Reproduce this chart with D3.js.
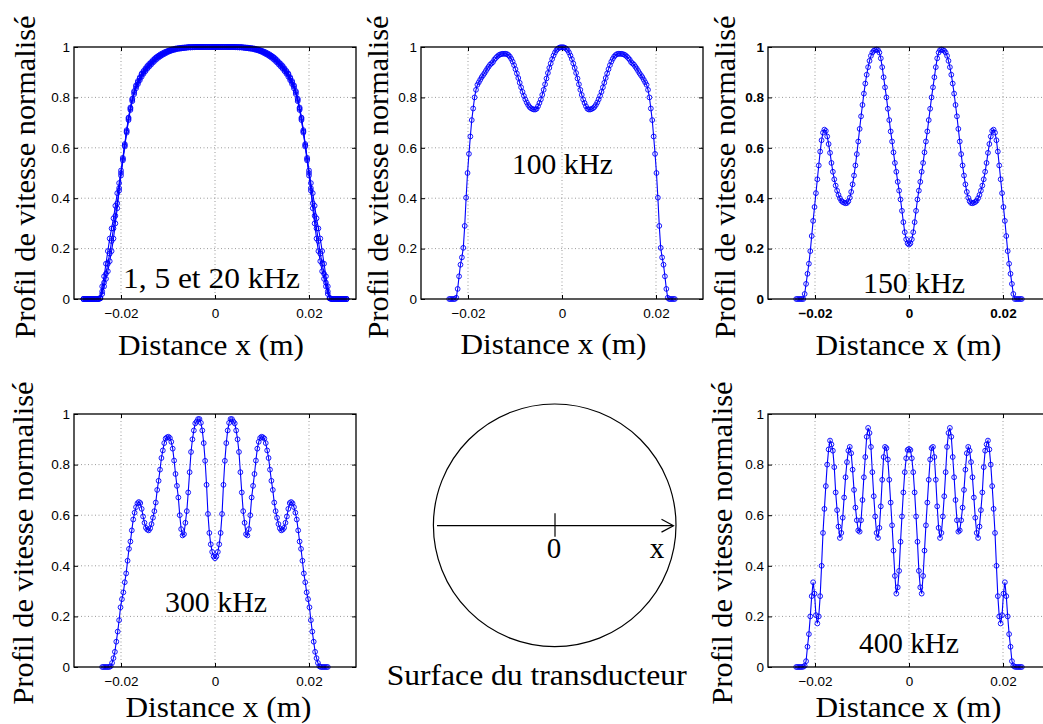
<!DOCTYPE html>
<html><head><meta charset="utf-8">
<script src="https://cdn.jsdelivr.net/npm/d3@7"></script>
<style>body{margin:0;background:#fff}svg{display:block}</style>
</head><body>
<svg id="c" width="1043" height="724"></svg>
<script>
// ---------- DATA ----------
const xTicks = [-0.02, 0, 0.02];
const xTickLabels = ["\u22120.02", "0", "0.02"];
const yTicks = [0, 0.2, 0.4, 0.6, 0.8, 1];
const yTickLabels = ["0", "0.2", "0.4", "0.6", "0.8", "1"];

// sample positions (m) for the 1, 5, 20 kHz profiles
const xLow = [
-0.0280,-0.0276,-0.0272,-0.0268,-0.0264,-0.0260,-0.0256,-0.0252,-0.0248,-0.0244,
-0.0240,-0.0236,-0.0232,-0.0228,-0.0224,-0.0220,-0.0216,-0.0212,-0.0208,-0.0204,
-0.0200,-0.0196,-0.0192,-0.0188,-0.0184,-0.0180,-0.0176,-0.0172,-0.0168,-0.0164,
-0.0160,-0.0156,-0.0152,-0.0148,-0.0144,-0.0140,-0.0136,-0.0132,-0.0128,-0.0124,
-0.0120,-0.0116,-0.0112,-0.0108,-0.0104,-0.0100,-0.0096,-0.0092,-0.0088,-0.0084,
-0.0080,-0.0076,-0.0072,-0.0068,-0.0064,-0.0060,-0.0056,-0.0052,-0.0048,-0.0044,
-0.0040,-0.0036,-0.0032,-0.0028,-0.0024,-0.0020,-0.0016,-0.0012,-0.0008,-0.0004,
0,
0.0004,0.0008,0.0012,0.0016,0.0020,0.0024,0.0028,0.0032,0.0036,0.0040,
0.0044,0.0048,0.0052,0.0056,0.0060,0.0064,0.0068,0.0072,0.0076,0.0080,
0.0084,0.0088,0.0092,0.0096,0.0100,0.0104,0.0108,0.0112,0.0116,0.0120,
0.0124,0.0128,0.0132,0.0136,0.0140,0.0144,0.0148,0.0152,0.0156,0.0160,
0.0164,0.0168,0.0172,0.0176,0.0180,0.0184,0.0188,0.0192,0.0196,0.0200,
0.0204,0.0208,0.0212,0.0216,0.0220,0.0224,0.0228,0.0232,0.0236,0.0240,
0.0244,0.0248,0.0252,0.0256,0.0260,0.0264,0.0268,0.0272,0.0276,0.0280];

const v1kHz = [
0,0,0,0,0,0,0,0,0,0.005,
0.05,0.09,0.14,0.19,0.24,0.28,0.32,0.37,0.42,0.46,
0.51,0.56,0.615,0.67,0.72,0.76,0.795,0.825,0.848,0.865,
0.88,0.895,0.905,0.915,0.925,0.933,0.94,0.948,0.955,0.961,
0.966,0.971,0.975,0.979,0.982,0.985,0.988,0.99,0.992,0.994,
0.995,0.996,0.997,0.998,0.998,0.999,1,1,1,1,
1,1,1,1,1,1,1,1,1,1,
1,
1,1,1,1,1,1,1,1,1,1,
1,1,1,1,0.999,0.998,0.998,0.997,0.996,0.995,
0.994,0.992,0.99,0.988,0.985,0.982,0.979,0.975,0.971,0.966,
0.961,0.955,0.948,0.94,0.933,0.925,0.915,0.905,0.895,0.88,
0.865,0.848,0.825,0.795,0.76,0.72,0.67,0.615,0.56,0.51,
0.46,0.42,0.37,0.32,0.28,0.24,0.19,0.14,0.09,0.05,
0.005,0,0,0,0,0,0,0,0,0];

const v5kHz = [
0,0,0,0,0,0,0,0,0,0.003,
0.03,0.065,0.10,0.14,0.18,0.23,0.28,0.33,0.38,0.44,
0.50,0.555,0.61,0.665,0.715,0.755,0.79,0.82,0.843,0.86,
0.875,0.89,0.90,0.91,0.92,0.928,0.936,0.944,0.951,0.958,
0.963,0.968,0.972,0.976,0.98,0.983,0.986,0.988,0.99,0.992,
0.994,0.995,0.996,0.997,0.998,0.998,0.999,0.999,0.999,1,
1,1,1,1,1,1,1,1,1,1,
1,
1,1,1,1,1,1,1,1,1,1,
1,0.999,0.999,0.999,0.998,0.998,0.997,0.996,0.995,0.994,
0.992,0.99,0.988,0.986,0.983,0.98,0.976,0.972,0.968,0.963,
0.958,0.951,0.944,0.936,0.928,0.92,0.91,0.90,0.89,0.875,
0.86,0.843,0.82,0.79,0.755,0.715,0.665,0.61,0.555,0.50,
0.44,0.38,0.33,0.28,0.23,0.18,0.14,0.10,0.065,0.03,
0.003,0,0,0,0,0,0,0,0,0];

const v20kHz = [
0,0,0,0,0,0,0,0,0,0.002,
0.02,0.05,0.08,0.11,0.15,0.19,0.24,0.30,0.36,0.43,
0.49,0.55,0.605,0.66,0.71,0.75,0.785,0.813,0.836,0.853,
0.868,0.882,0.894,0.904,0.914,0.922,0.93,0.938,0.945,0.952,
0.958,0.963,0.968,0.972,0.976,0.98,0.983,0.986,0.988,0.99,
0.992,0.993,0.994,0.995,0.996,0.997,0.998,0.998,0.999,0.999,
1,1,1,1,1,1,1,1,1,1,
1,
1,1,1,1,1,1,1,1,1,1,
0.999,0.999,0.998,0.998,0.997,0.996,0.995,0.994,0.993,0.992,
0.99,0.988,0.986,0.983,0.98,0.976,0.972,0.968,0.963,0.958,
0.952,0.945,0.938,0.93,0.922,0.914,0.904,0.894,0.882,0.868,
0.853,0.836,0.813,0.785,0.75,0.71,0.66,0.605,0.55,0.49,
0.43,0.36,0.30,0.24,0.19,0.15,0.11,0.08,0.05,0.02,
0.002,0,0,0,0,0,0,0,0,0];

// sample positions (m) for the 100-400 kHz profiles
const xHigh = [
-0.0240,-0.0237,-0.0234,-0.0231,-0.0228,-0.0225,-0.0222,-0.0219,-0.0216,-0.0213,
-0.0210,-0.0207,-0.0204,-0.0201,-0.0198,-0.0195,-0.0192,-0.0189,-0.0186,-0.0183,
-0.0180,-0.0177,-0.0174,-0.0171,-0.0168,-0.0165,-0.0162,-0.0159,-0.0156,-0.0153,
-0.0150,-0.0147,-0.0144,-0.0141,-0.0138,-0.0135,-0.0132,-0.0129,-0.0126,-0.0123,
-0.0120,-0.0117,-0.0114,-0.0111,-0.0108,-0.0105,-0.0102,-0.0099,-0.0096,-0.0093,
-0.0090,-0.0087,-0.0084,-0.0081,-0.0078,-0.0075,-0.0072,-0.0069,-0.0066,-0.0063,
-0.0060,-0.0057,-0.0054,-0.0051,-0.0048,-0.0045,-0.0042,-0.0039,-0.0036,-0.0033,
-0.0030,-0.0027,-0.0024,-0.0021,-0.0018,-0.0015,-0.0012,-0.0009,-0.0006,-0.0003,
0,
0.0003,0.0006,0.0009,0.0012,0.0015,0.0018,0.0021,0.0024,0.0027,0.0030,
0.0033,0.0036,0.0039,0.0042,0.0045,0.0048,0.0051,0.0054,0.0057,0.0060,
0.0063,0.0066,0.0069,0.0072,0.0075,0.0078,0.0081,0.0084,0.0087,0.0090,
0.0093,0.0096,0.0099,0.0102,0.0105,0.0108,0.0111,0.0114,0.0117,0.0120,
0.0123,0.0126,0.0129,0.0132,0.0135,0.0138,0.0141,0.0144,0.0147,0.0150,
0.0153,0.0156,0.0159,0.0162,0.0165,0.0168,0.0171,0.0174,0.0177,0.0180,
0.0183,0.0186,0.0189,0.0192,0.0195,0.0198,0.0201,0.0204,0.0207,0.0210,
0.0213,0.0216,0.0219,0.0222,0.0225,0.0228,0.0231,0.0234,0.0237,0.0240];

const v100kHz = [
0,0,0,0,0,0.005,0.04,0.09,0.136,0.165,
0.203,0.29,0.402,0.5,0.576,0.645,0.71,0.756,0.8,0.83,
0.85,0.86,0.87,0.88,0.888,0.896,0.905,0.914,0.922,0.93,
0.935,0.94,0.95,0.956,0.962,0.967,0.97,0.972,0.973,0.973,
0.973,0.972,0.968,0.962,0.953,0.942,0.928,0.912,0.895,0.877,
0.858,0.84,0.822,0.806,0.792,0.78,0.77,0.762,0.757,0.754,
0.752,0.752,0.755,0.765,0.778,0.792,0.81,0.83,0.852,0.875,
0.897,0.917,0.935,0.952,0.966,0.978,0.987,0.993,0.997,0.999,
0.999,
0.999,0.997,0.993,0.987,0.978,0.966,0.952,0.935,0.917,0.897,
0.875,0.852,0.83,0.81,0.792,0.778,0.765,0.755,0.752,0.752,
0.754,0.757,0.762,0.77,0.78,0.792,0.806,0.822,0.84,0.858,
0.877,0.895,0.912,0.928,0.942,0.953,0.962,0.968,0.972,0.973,
0.973,0.973,0.972,0.97,0.967,0.962,0.956,0.95,0.94,0.935,
0.93,0.922,0.914,0.905,0.896,0.888,0.88,0.87,0.86,0.85,
0.83,0.8,0.756,0.71,0.645,0.576,0.5,0.402,0.29,0.203,
0.165,0.136,0.09,0.04,0.005,0,0,0,0,0];

const v150kHz = [
0,0,0,0,0,0,0.02,0.06,0.10,0.14,
0.19,0.25,0.31,0.365,0.42,0.475,0.53,0.585,0.63,0.66,
0.672,0.667,0.645,0.615,0.58,0.54,0.505,0.475,0.45,0.43,
0.413,0.40,0.39,0.385,0.382,0.38,0.381,0.388,0.402,0.425,
0.455,0.49,0.53,0.575,0.625,0.675,0.725,0.77,0.815,0.855,
0.89,0.92,0.945,0.965,0.978,0.985,0.988,0.99,0.988,0.978,
0.955,0.92,0.88,0.84,0.80,0.755,0.71,0.665,0.625,0.582,
0.54,0.505,0.465,0.43,0.395,0.35,0.305,0.265,0.237,0.221,
0.216,
0.221,0.237,0.265,0.305,0.35,0.395,0.43,0.465,0.505,0.54,
0.582,0.625,0.665,0.71,0.755,0.80,0.84,0.88,0.92,0.955,
0.978,0.988,0.99,0.988,0.985,0.978,0.965,0.945,0.92,0.89,
0.855,0.815,0.77,0.725,0.675,0.625,0.575,0.53,0.49,0.455,
0.425,0.402,0.388,0.381,0.38,0.382,0.385,0.39,0.40,0.413,
0.43,0.45,0.475,0.505,0.54,0.58,0.615,0.645,0.667,0.672,
0.66,0.63,0.585,0.53,0.475,0.42,0.365,0.31,0.25,0.19,
0.14,0.10,0.06,0.02,0,0,0,0,0,0];

const v300kHz = [
0,0,0,0,0,0,0.003,0.016,0.035,0.06,
0.10,0.14,0.185,0.236,0.268,0.295,0.335,0.37,0.42,0.467,
0.496,0.54,0.583,0.61,0.632,0.647,0.652,0.648,0.625,0.595,
0.57,0.55,0.543,0.54,0.548,0.565,0.59,0.616,0.65,0.70,
0.736,0.78,0.826,0.856,0.885,0.903,0.908,0.91,0.905,0.89,
0.863,0.816,0.763,0.716,0.67,0.60,0.545,0.52,0.525,0.57,
0.616,0.69,0.77,0.85,0.90,0.935,0.963,0.97,0.98,0.98,
0.965,0.935,0.885,0.815,0.72,0.605,0.53,0.485,0.455,0.437,
0.43,
0.437,0.455,0.485,0.53,0.605,0.72,0.815,0.885,0.935,0.965,
0.98,0.98,0.97,0.963,0.935,0.90,0.85,0.77,0.69,0.616,
0.57,0.525,0.52,0.545,0.60,0.67,0.716,0.763,0.816,0.863,
0.89,0.905,0.91,0.908,0.903,0.885,0.856,0.826,0.78,0.736,
0.70,0.65,0.616,0.59,0.565,0.548,0.54,0.543,0.55,0.57,
0.595,0.625,0.648,0.652,0.647,0.632,0.61,0.583,0.54,0.496,
0.467,0.42,0.37,0.335,0.295,0.268,0.236,0.185,0.14,0.10,
0.06,0.035,0.016,0.003,0,0,0,0,0,0];

const v400kHz = [
0,0,0,0,0,0.001,0.005,0.023,0.08,0.13,
0.20,0.28,0.335,0.29,0.205,0.172,0.20,0.28,0.40,0.53,
0.625,0.715,0.80,0.86,0.895,0.88,0.855,0.79,0.69,0.62,
0.555,0.51,0.53,0.59,0.67,0.75,0.81,0.855,0.87,0.845,
0.78,0.70,0.63,0.58,0.54,0.535,0.58,0.66,0.75,0.83,
0.91,0.945,0.925,0.87,0.77,0.675,0.595,0.53,0.51,0.55,
0.635,0.74,0.83,0.87,0.865,0.82,0.74,0.65,0.56,0.46,
0.36,0.29,0.315,0.38,0.495,0.595,0.69,0.77,0.825,0.858,
0.862,
0.858,0.825,0.77,0.69,0.595,0.495,0.38,0.315,0.29,0.36,
0.46,0.56,0.65,0.74,0.82,0.865,0.87,0.83,0.74,0.635,
0.55,0.51,0.53,0.595,0.675,0.77,0.87,0.925,0.945,0.91,
0.83,0.75,0.66,0.58,0.535,0.54,0.58,0.63,0.70,0.78,
0.845,0.87,0.855,0.81,0.75,0.67,0.59,0.53,0.51,0.555,
0.62,0.69,0.79,0.855,0.88,0.895,0.86,0.80,0.715,0.625,
0.53,0.40,0.28,0.20,0.172,0.205,0.29,0.335,0.28,0.20,
0.13,0.08,0.023,0.005,0.001,0,0,0,0,0];

const yTitle = "Profil de vitesse normalisé";
const xTitle = "Distance x (m)";
const labels = ["1, 5 et 20 kHz", "100 kHz", "150 kHz", "300 kHz", "400 kHz"];
const surfaceLabel = "Surface du transducteur";

// ---------- LAYOUT ----------
const svg = d3.select("#c");
const SERIF = "'Liberation Serif','Times New Roman',serif";
const SANS = "'Liberation Sans',Arial,Helvetica,sans-serif";
const BLUE = "#0000ff";

const panels = [
  {x:74, y:47, w:282, h:252, xs:xLow, ys:[v1kHz, v5kHz, v20kHz], label:labels[0], lx:123, ly:288, lw:177,
   yb:35, yc:177, xc:211, xb:355, bold:false},
  {x:421, y:47, w:282, h:252, xs:xHigh, ys:[v100kHz], label:labels[1], lx:512, ly:174, lw:101,
   yb:388, yc:177, xc:553.5, xb:354, bold:false},
  {x:768, y:47, w:282, h:252, xs:xHigh, ys:[v150kHz], label:labels[2], lx:863, ly:293, lw:102,
   yb:735, yc:177, xc:908.5, xb:355, bold:true},
  {x:74, y:414, w:282, h:253, xs:xHigh, ys:[v300kHz], label:labels[3], lx:165, ly:612, lw:102,
   yb:33, yc:543, xc:218.5, xb:717, bold:false},
  {x:768, y:414, w:282, h:253, xs:xHigh, ys:[v400kHz], label:labels[4], lx:859, ly:653, lw:100,
   yb:732, yc:543, xc:908.5, xb:717, bold:false}
];

panels.forEach(p => {
  const x = d3.scaleLinear().domain([-0.03, 0.03]).range([0, p.w]);
  const y = d3.scaleLinear().domain([0, 1]).range([p.h, 0]);
  const g = svg.append("g").attr("transform", `translate(${p.x},${p.y})`);

  // grid
  g.selectAll(".gx").data(xTicks).enter().append("line")
    .attr("x1", d => x(d)).attr("x2", d => x(d)).attr("y1", 0).attr("y2", p.h)
    .attr("stroke", "#9a9a9a").attr("stroke-width", 1).attr("stroke-dasharray", "1,2.5");
  g.selectAll(".gy").data(yTicks.filter(v => v > 0 && v < 1)).enter().append("line")
    .attr("y1", d => y(d)).attr("y2", d => y(d)).attr("x1", 0).attr("x2", p.w)
    .attr("stroke", "#9a9a9a").attr("stroke-width", 1).attr("stroke-dasharray", "1,2.5");

  // axes
  const fw = p.bold ? "bold" : "normal";
  const ax = g.append("g").attr("transform", `translate(0,${p.h})`)
    .call(d3.axisBottom(x).tickValues(xTicks).tickFormat((d, i) => xTickLabels[i])
      .tickSizeInner(-4).tickSizeOuter(0).tickPadding(9));
  const ay = g.append("g")
    .call(d3.axisLeft(y).tickValues(yTicks).tickFormat((d, i) => yTickLabels[i])
      .tickSizeInner(-4).tickSizeOuter(0).tickPadding(4));
  g.append("g").call(d3.axisTop(x).tickValues(xTicks).tickFormat("").tickSizeInner(-4).tickSizeOuter(0));
  g.append("g").attr("transform", `translate(${p.w},0)`)
    .call(d3.axisRight(y).tickValues(yTicks).tickFormat("").tickSizeInner(-4).tickSizeOuter(0));
  g.selectAll(".domain").remove();
  g.selectAll(".tick line").attr("stroke", "#000");
  [ax, ay].forEach(a => a.selectAll("text")
    .attr("font-family", SANS).attr("font-size", 13.5).attr("font-weight", fw).attr("fill", "#000"));

  // curves
  const line = d3.line().x((d) => x(d[0])).y(d => y(d[1]));
  p.ys.forEach(vals => {
    const pts = p.xs.map((xv, i) => [xv, vals[i]]).filter(d => d[1] !== undefined);
    g.append("path").datum(pts).attr("d", line)
      .attr("fill", "none").attr("stroke", BLUE).attr("stroke-width", 1.1);
    g.append("g").selectAll("circle").data(pts).enter().append("circle")
      .attr("cx", d => x(d[0])).attr("cy", d => y(d[1])).attr("r", 2.4)
      .attr("fill", "none").attr("stroke", BLUE).attr("stroke-width", 1).attr("stroke-opacity", 0.9);
  });

  // box
  g.append("rect").attr("width", p.w).attr("height", p.h)
    .attr("fill", "none").attr("stroke", "#000").attr("stroke-width", 1.3);

  // frequency label
  svg.append("text").attr("x", p.lx).attr("y", p.ly).text(p.label)
    .attr("font-family", SERIF).attr("font-size", 29).attr("fill", "#000")
    .attr("textLength", p.lw).attr("lengthAdjust", "spacingAndGlyphs");

  // axis titles
  svg.append("text").attr("x", p.xc).attr("y", p.xb).attr("text-anchor", "middle").text(xTitle)
    .attr("font-family", SERIF).attr("font-size", 29).attr("fill", "#000")
    .attr("textLength", 186).attr("lengthAdjust", "spacingAndGlyphs");
  svg.append("text").attr("transform", `translate(${p.yb},${p.yc}) rotate(-90)`)
    .attr("text-anchor", "middle").text(yTitle)
    .attr("font-family", SERIF).attr("font-size", 29).attr("fill", "#000")
    .attr("textLength", 323).attr("lengthAdjust", "spacingAndGlyphs");
});

// ---------- transducer surface sketch ----------
const s = svg.append("g");
s.append("circle").attr("cx", 554.7).attr("cy", 525.3).attr("r", 121.3)
  .attr("fill", "none").attr("stroke", "#000").attr("stroke-width", 1.2);
s.append("line").attr("x1", 437).attr("x2", 673).attr("y1", 525.7).attr("y2", 525.7)
  .attr("stroke", "#000").attr("stroke-width", 1.2);
s.append("polyline").attr("points", "661.5,519.3 673.5,525.7 661.5,532.1")
  .attr("fill", "none").attr("stroke", "#000").attr("stroke-width", 1.2);
s.append("line").attr("x1", 555).attr("x2", 555).attr("y1", 513.3).attr("y2", 536.7)
  .attr("stroke", "#000").attr("stroke-width", 1.2);
s.append("text").attr("x", 554).attr("y", 558).attr("text-anchor", "middle").text("0")
  .attr("font-family", SERIF).attr("font-size", 29);
s.append("text").attr("x", 657).attr("y", 558).attr("text-anchor", "middle").text("x")
  .attr("font-family", SERIF).attr("font-size", 29);
s.append("text").attr("x", 536.7).attr("y", 685).attr("text-anchor", "middle").text(surfaceLabel)
  .attr("font-family", SERIF).attr("font-size", 29)
  .attr("textLength", 300).attr("lengthAdjust", "spacingAndGlyphs");
</script>
</body></html>
